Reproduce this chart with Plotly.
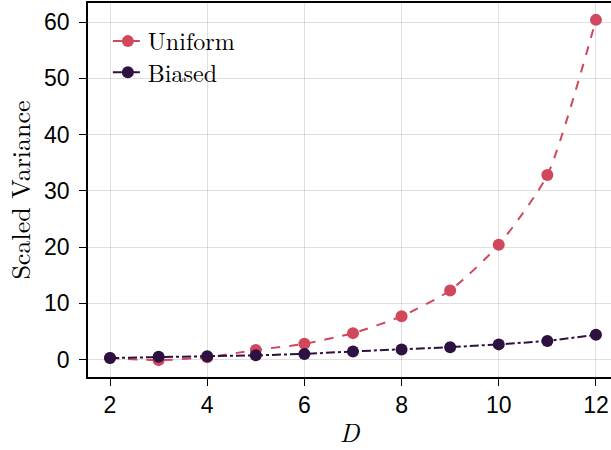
import plotly.graph_objects as go

# Problem dimension
D = [2, 3, 4, 5, 6, 7, 8, 9, 10, 11, 12]

# Scaled variance for each sampling scheme
uniform_var = [0.3, -0.1, 0.4, 1.7, 2.8, 4.7, 7.7, 12.3, 20.4, 32.8, 60.4]
biased_var = [0.27, 0.5, 0.6, 0.75, 1.0, 1.45, 1.8, 2.2, 2.7, 3.3, 4.4]

x_ticks = [2, 4, 6, 8, 10, 12]
y_ticks = [0, 10, 20, 30, 40, 50, 60]

UNIFORM_COLOR = "#d1475c"
BIASED_COLOR = "#2c1141"
SERIF = "Latin Modern Roman, CMU Serif, Liberation Serif, serif"
SANS = "Liberation Sans, Arial, sans-serif"

fig = go.Figure()
fig.add_trace(go.Scatter(
    x=D, y=uniform_var, name="Uniform", mode="lines+markers", legend="legend",
    line=dict(color=UNIFORM_COLOR, width=2, dash="dash", shape="spline", smoothing=0.6),
    marker=dict(color=UNIFORM_COLOR, size=12),
))
fig.add_trace(go.Scatter(
    x=D, y=biased_var, name="Biased", mode="lines+markers", legend="legend2",
    line=dict(color=BIASED_COLOR, width=2, dash="dashdot"),
    marker=dict(color=BIASED_COLOR, size=12),
))

legend_style = dict(
    xanchor="left", yanchor="middle",
    bgcolor="rgba(0,0,0,0)", borderwidth=0,
    font=dict(family=SERIF, size=24, color="black"),
    itemwidth=30,
)

grid = "rgba(0,0,0,0.12)"
fig.update_layout(
    width=611, height=450,
    margin=dict(l=88, r=0, t=3, b=73),
    plot_bgcolor="white", paper_bgcolor="white",
    showlegend=True,
    legend=dict(x=0.038, y=0.897, **legend_style),
    legend2=dict(x=0.038, y=0.814, **legend_style),
    xaxis=dict(
        range=[1.547, 12.31], tickvals=x_ticks,
        showgrid=True, gridcolor=grid, gridwidth=1, zeroline=False,
        showline=True, linecolor="black", linewidth=1.5, mirror=True,
        ticks="outside", ticklen=7, tickcolor="black", tickwidth=1,
        tickfont=dict(family=SANS, size=23, color="black"),
        title=dict(text="<i>D</i>", font=dict(family=SERIF, size=26, color="black"), standoff=9),
    ),
    yaxis=dict(
        range=[-3.1, 63.4], tickvals=y_ticks,
        showgrid=True, gridcolor=grid, gridwidth=1, zeroline=False,
        showline=True, linecolor="black", linewidth=1.5,
        ticks="outside", ticklen=7, tickcolor="black", tickwidth=1,
        ticklabelstandoff=5,
        tickfont=dict(family=SANS, size=23, color="black"),
        title=dict(text="Scaled Variance", font=dict(family=SERIF, size=26, color="black"), standoff=6),
    ),
)

fig.write_html("out.html")
